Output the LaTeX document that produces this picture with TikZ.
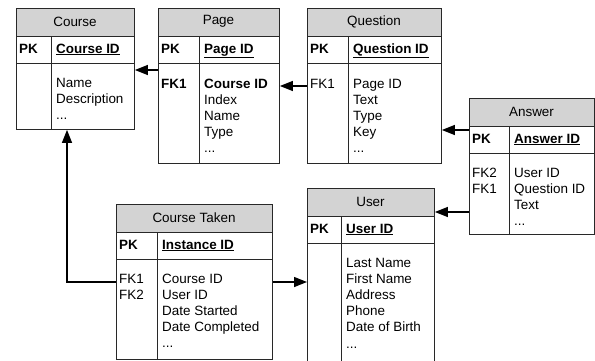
\documentclass[tikz,border=0pt]{standalone}
\usepackage{fontspec}
\setmainfont{Liberation Sans}
\usetikzlibrary{arrows.meta}
\definecolor{hdr}{RGB}{211,211,211}
\definecolor{edge}{RGB}{40,40,40}
\newcommand\myell{...}
\tikzset{
  tbox/.style={draw=edge, line width=0.9bp, inner sep=0pt, anchor=north west},
  tline/.style={draw=edge, line width=0.9bp},
  ttl/.style={font=\fontsize{13.5}{15}\selectfont, inner sep=0pt},
  fld/.style={font=\fontsize{13.5}{15}\selectfont, inner sep=0pt, anchor=base west},
  pkt/.style={font=\fontsize{13.5}{15}\selectfont\bfseries, inner sep=0pt, anchor=base west},
  fk/.style={draw=black, line width=1.4bp, -{Triangle[length=13bp,width=10bp]}},
}
% #1 name, #2 x1, #3 y1, #4 x2, #5 y2, #6 xdiv, #7 title, #8 pk field
\newcommand\ertab[8]{%
  \fill[hdr] (#2,#3) rectangle (#4,#3+28);
  \node[tbox, minimum width={(#4-#2)*1bp}, minimum height={(#5-#3)*1bp}] (#1) at (#2,#3) {};
  \draw[tline] (#2,#3+28) -- (#4,#3+28);
  \draw[tline] (#2,#3+55) -- (#4,#3+55);
  \draw[tline] (#6,#3+28) -- (#6,#5);
  \node[ttl] (#1-title) at ({(#2+#4)/2},#3+13.5) {#7};
  \node[pkt] (#1-pk) at (#2+3,#3+45) {PK};
  \node[pkt] (#1-pkf) at (#6+5,#3+45) {\underline{#8}};
}
\newcommand\erfields[4]{% #1 name, #2 x, #3 y0, #4 list
  \foreach \t [count=\i] in {#4}
    \node[fld] (#1-f\i) at (#2,{#3+(\i-1)*16.2}) {\t};
}
\begin{document}
\begin{tikzpicture}[x=1bp,y=-1bp]
\useasboundingbox (0,0) rectangle (595,360);
\begin{scope}
\clip (0,0) rectangle (595,360);
% Course
\ertab{course}{16}{8}{134}{129}{51}{Course}{Course ID}
\erfields{course}{56}{87}{Name,Description,\myell}
% Page
\ertab{page}{158}{8}{279}{163}{199}{Page}{Page ID}
\node[pkt] (page-k1) at (161,88) {FK1};
\node[pkt] (page-f1) at (204,88) {Course ID};
\erfields{pagex}{204}{104.2}{Index,Name,Type,\myell}
% Question
\ertab{question}{307}{8}{441}{163}{348}{Question}{Question ID}
\node[fld] (question-k1) at (310,88) {FK1};
\erfields{question}{353}{88}{Page ID,Text,Type,Key,\myell}
% Answer
\ertab{answer}{469}{98}{594}{234}{509}{Answer}{Answer ID}
\node[fld] (answer-k2) at (472,177) {FK2};
\node[fld] (answer-k1) at (472,193.2) {FK1};
\erfields{answer}{514}{177}{User ID,Question ID,Text,\myell}
% User
\ertab{user}{307}{188}{434}{364}{341}{User}{User ID}
\erfields{user}{346}{267}{Last Name,First Name,Address,Phone,Date of Birth,\myell}
% Course Taken
\ertab{taken}{116}{204}{272}{358.5}{157}{Course Taken}{Instance ID}
\node[fld] (taken-k1) at (119,283) {FK1};
\node[fld] (taken-k2) at (119,299.2) {FK2};
\erfields{taken}{162}{283}{Course ID,User ID,Date Started,Date Completed,\myell}
\end{scope}
% connectors
\draw[fk] (page.west |- 0,70) -- (course.east |- 0,70);
\draw[fk] (question.west |- 0,86) -- (page.east |- 0,86);
\draw[fk] (answer.west |- 0,130) -- (question.east |- 0,130);
\draw[fk] (answer.west |- 0,212) -- (user.east |- 0,212);
\draw[fk] (taken.west |- 0,282) -| (course.south -| 67,0);
\draw[fk] (taken.east |- 0,282) -- (user.west |- 0,282);
\end{tikzpicture}
\end{document}
